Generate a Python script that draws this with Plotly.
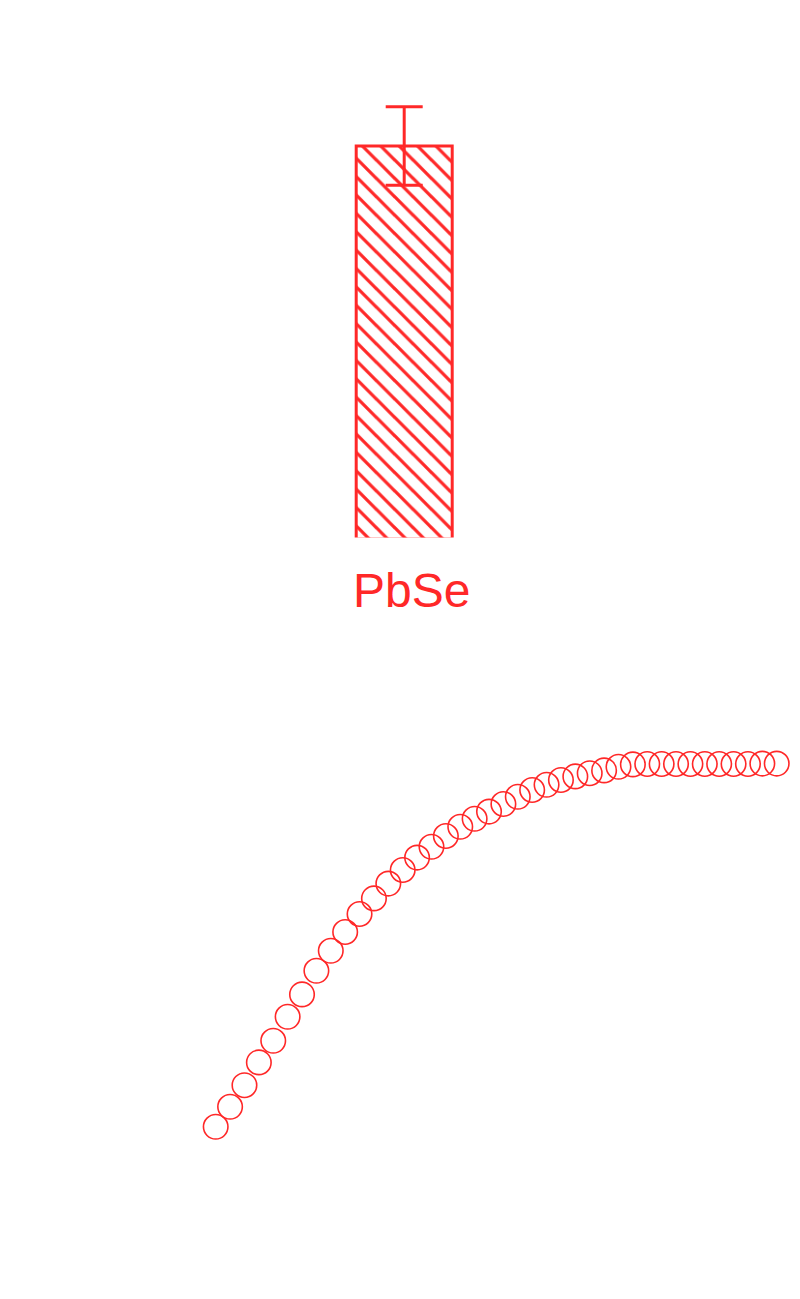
import plotly.graph_objects as go

# ---------------- data ----------------
bar_categories = ["PbSe"]
bar_values = [1.0]
bar_errors = [0.1]

scatter_x = [0, 1, 2, 3, 4, 5, 6, 7, 8, 9,
             10, 11, 12, 13, 14, 15, 16, 17, 18, 19,
             20, 21, 22, 23, 24, 25, 26, 27, 28, 29,
             30, 31, 32, 33, 34, 35, 36, 37, 38, 39]
scatter_y = [0.058, 0.108, 0.162, 0.219, 0.273, 0.333, 0.389, 0.448, 0.498, 0.545,
             0.590, 0.629, 0.666, 0.700, 0.731, 0.758, 0.785, 0.808, 0.828, 0.846,
             0.865, 0.883, 0.900, 0.913, 0.925, 0.934, 0.942, 0.949, 0.958, 0.964,
             0.965, 0.965, 0.965, 0.965, 0.965, 0.965, 0.965, 0.965, 0.966, 0.966]

RED = "rgb(255,40,40)"
W, H = 800, 1299
OFF = 8  # page body margin


def py(p):
    """reference pixel row -> paper fraction"""
    return (H - (p - OFF)) / H


def px(p):
    return (p - OFF) / W


fig = go.Figure()

fig.add_trace(go.Bar(
    x=bar_categories, y=bar_values, width=[1.0],
    xaxis="x", yaxis="y",
    marker=dict(color="white",
                line=dict(color=RED, width=3),
                pattern=dict(shape="\\", fgcolor=RED, bgcolor="white",
                             fgopacity=1, fillmode="replace",
                             size=13, solidity=0.25)),
    error_y=dict(type="data", array=bar_errors, visible=True,
                 color=RED, thickness=3, width=18.5),
))

fig.add_trace(go.Scatter(
    x=scatter_x, y=scatter_y, mode="markers",
    xaxis="x2", yaxis="y2", cliponaxis=False,
    marker=dict(symbol="circle-open", size=24.5, color=RED,
                line=dict(color=RED, width=1.6)),
))

bar_px = 96.0          # pixels per category unit
bar_center = 404.2 - OFF
scale_y = 393.0        # pixels per bar value unit
y0 = 0.004
pt_px = 14.385
pt_x0 = 215.7 - OFF

fig.update_layout(
    width=W, height=H, autosize=False,
    margin=dict(l=0, r=0, t=0, b=0, pad=0),
    paper_bgcolor="white", plot_bgcolor="white",
    showlegend=False,
    xaxis=dict(domain=[0, 1], visible=False, type="category",
               range=[-bar_center / bar_px, (W - bar_center) / bar_px]),
    yaxis=dict(domain=[py(539 - y0 * scale_y), py(539 - 1.2 * scale_y)],
               range=[y0, 1.2], visible=False),
    xaxis2=dict(domain=[0, 1], visible=False, anchor="y2",
                range=[-pt_x0 / pt_px, (W - pt_x0) / pt_px]),
    yaxis2=dict(domain=[py(1150), py(750)], range=[0, 1],
                visible=False, anchor="x2"),
    annotations=[dict(text="PbSe", x=px(411), xref="paper",
                      y=py(590), yref="paper", xanchor="center", yanchor="middle",
                      showarrow=False,
                      font=dict(family="Liberation Sans, Arial", size=48, color=RED))],
)

fig.write_html("out.html")
